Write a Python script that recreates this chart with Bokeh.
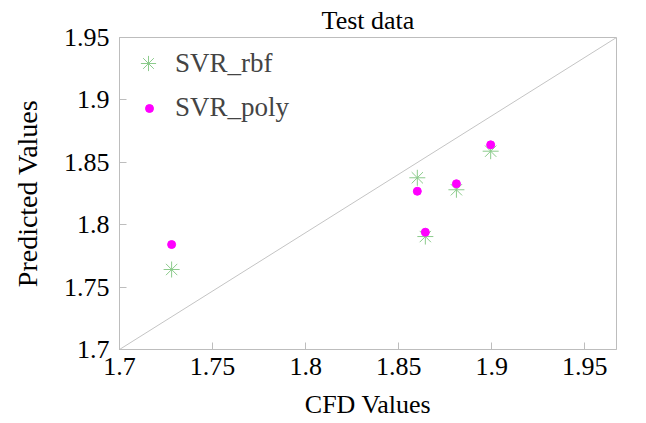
from bokeh.plotting import figure
from bokeh.models import Range1d, FixedTicker, Legend, LegendItem
from bokeh.embed import file_html
from bokeh.resources import INLINE

# data
cfd = [1.728, 1.860, 1.881, 1.8643, 1.8994]
svr_rbf = [1.7641, 1.8376, 1.8280, 1.7905, 1.8589]
svr_poly = [1.7841, 1.8268, 1.8328, 1.7940, 1.8640]
diag_x = [1.7, 1.967]
diag_y = [1.7, 1.95]
ticks = [1.7, 1.75, 1.8, 1.85, 1.9, 1.95]

FONT = "Liberation Serif"

p = figure(width=646, height=423, output_backend="svg", toolbar_location=None,
           x_range=Range1d(1.7, 1.967), y_range=Range1d(1.7, 1.95),
           min_border_left=119, min_border_right=30, min_border_top=37, min_border_bottom=74,
           title="Test data")
p.title.align = "center"
p.title.text_font = FONT
p.title.text_font_size = "26px"
p.title.text_font_style = "normal"
p.title.text_color = "black"
p.title.standoff = 6

p.xgrid.visible = False
p.ygrid.visible = False
p.outline_line_color = "#bdbdbd"
p.outline_line_width = 1
p.background_fill_color = "white"
p.border_fill_color = "white"

for ax in (p.xaxis[0], p.yaxis[0]):
    ax.ticker = FixedTicker(ticks=ticks)
    ax.major_tick_in = 7
    ax.major_tick_out = 0
    ax.minor_tick_in = 0
    ax.minor_tick_out = 0
    ax.axis_line_color = "#bdbdbd"
    ax.major_tick_line_color = "#bdbdbd"
    ax.major_label_text_font = FONT
    ax.major_label_text_font_size = "26px"
    ax.major_label_text_color = "black"
    ax.axis_label_text_font = FONT
    ax.axis_label_text_font_style = "normal"
    ax.axis_label_text_color = "black"

p.xaxis.axis_label = "CFD Values"
p.yaxis.axis_label = "Predicted Values"
p.xaxis.axis_label_text_font_size = "26px"
p.yaxis.axis_label_text_font_size = "28px"
p.xaxis.major_label_standoff = 8
p.yaxis.major_label_standoff = 10
p.xaxis.axis_label_standoff = 12
p.yaxis.axis_label_standoff = 18
p.yaxis.major_label_orientation = "horizontal"

p.line(diag_x, diag_y, line_color="#c4c4c4", line_width=1)
r1 = p.scatter(cfd, svr_rbf, marker="asterisk", size=16, line_color="#8ccb8c", line_width=1)
r2 = p.scatter(cfd, svr_poly, marker="circle", size=8, fill_color="#ff00ff", line_color="#ff00ff")


def style(lg):
    lg.label_text_font = FONT
    lg.label_text_font_size = "27px"
    lg.border_line_color = None
    lg.background_fill_alpha = 0


legend1 = Legend(items=[LegendItem(label="SVR_rbf", renderers=[r1])], location="top_left")
legend1.margin = 7
legend1.padding = 4
legend1.glyph_width = 44
legend1.glyph_height = 38
legend1.label_standoff = 5
style(legend1)
p.add_layout(legend1, "center")

legend2 = Legend(items=[LegendItem(label="SVR_poly", renderers=[r2])], location=(20, 226))
legend2.margin = 0
legend2.padding = 4
legend2.glyph_width = 20
legend2.glyph_height = 20
legend2.label_standoff = 16
style(legend2)
p.add_layout(legend2, "center")

open("out.html", "w").write(file_html(p, INLINE))
